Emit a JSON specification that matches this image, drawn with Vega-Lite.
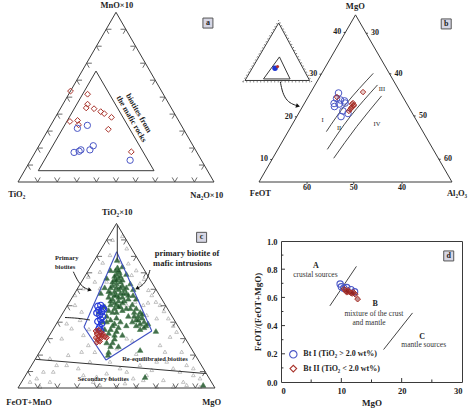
{
"$schema": "https://vega.github.io/schema/vega-lite/v6.json",
"background": "white",
"padding": 0,
"spacing": 3,
"config": {
  "view": {"stroke": null},
  "text": {"font": "Liberation Serif", "fontWeight": "bold", "fontSize": 8.5, "color": "#1e1e1e"},
  "axis": {"ticks": false, "domain": false, "grid": false, "labelFont": "Liberation Serif", "labelFontWeight": "bold", "labelFontSize": 8.5, "labelColor": "#222", "labelPadding": 4, "titleFont": "Liberation Serif", "titleFontWeight": "bold", "titleFontSize": 9, "titleColor": "#222", "titlePadding": 4},
  "title": {"font": "Liberation Serif"}
},
"datasets": {
  "tern": [
    {"u":0.1,"v":0,"edge":"b"},{"u":0.2,"v":0,"edge":"b"},{"u":0.3,"v":0,"edge":"b"},{"u":0.4,"v":0,"edge":"b"},{"u":0.5,"v":0,"edge":"b"},{"u":0.6,"v":0,"edge":"b"},{"u":0.7,"v":0,"edge":"b"},{"u":0.8,"v":0,"edge":"b"},{"u":0.9,"v":0,"edge":"b"},
    {"u":0.05,"v":0.0866,"edge":"l"},{"u":0.1,"v":0.1732,"edge":"l"},{"u":0.15,"v":0.2598,"edge":"l"},{"u":0.2,"v":0.3464,"edge":"l"},{"u":0.25,"v":0.433,"edge":"l"},{"u":0.3,"v":0.5196,"edge":"l"},{"u":0.35,"v":0.6062,"edge":"l"},{"u":0.4,"v":0.6928,"edge":"l"},{"u":0.45,"v":0.7794,"edge":"l"},
    {"u":0.95,"v":0.0866,"edge":"r"},{"u":0.9,"v":0.1732,"edge":"r"},{"u":0.85,"v":0.2598,"edge":"r"},{"u":0.8,"v":0.3464,"edge":"r"},{"u":0.75,"v":0.433,"edge":"r"},{"u":0.7,"v":0.5196,"edge":"r"},{"u":0.65,"v":0.6062,"edge":"r"},{"u":0.6,"v":0.6928,"edge":"r"},{"u":0.55,"v":0.7794,"edge":"r"}
  ],
  "aSeg": [
    {"u":0,"v":0,"u2":1,"v2":0},{"u":1,"v":0,"u2":0.5,"v2":0.866},{"u":0.5,"v":0.866,"u2":0,"v2":0},
    {"u":0.1036,"v":0.0577,"u2":0.694,"v2":0.0577},{"u":0.694,"v":0.0577,"u2":0.398,"v2":0.566},{"u":0.398,"v":0.566,"u2":0.1036,"v2":0.0577}
  ],
  "aPts": [
    {"grp":"II","u":0.268,"v":0.464},{"grp":"II","u":0.355,"v":0.448},{"grp":"II","u":0.355,"v":0.397},{"grp":"II","u":0.348,"v":0.378},{"grp":"II","u":0.388,"v":0.374},{"grp":"II","u":0.422,"v":0.359},{"grp":"II","u":0.44,"v":0.349},{"grp":"II","u":0.477,"v":0.33},{"grp":"II","u":0.265,"v":0.309},{"grp":"II","u":0.304,"v":0.314},{"grp":"II","u":0.309,"v":0.292},{"grp":"II","u":0.461,"v":0.269},{"grp":"II","u":0.578,"v":0.154},
    {"grp":"I","u":0.303,"v":0.274},{"grp":"I","u":0.354,"v":0.289},{"grp":"I","u":0.286,"v":0.151},{"grp":"I","u":0.312,"v":0.157},{"grp":"I","u":0.321,"v":0.164},{"grp":"I","u":0.367,"v":0.164},{"grp":"I","u":0.384,"v":0.185},{"grp":"I","u":0.572,"v":0.111}
  ],
  "aTxt": [
    {"u":0.504,"v":0.903,"t":"MnO×10","kind":"axis"},
    {"u":-0.0066,"v":-0.061,"t":"TiO₂","kind":"axis"},
    {"u":0.963,"v":-0.066,"t":"Na₂O×10","kind":"axis"},
    {"u":0.614,"v":0.35,"t":"biotites from","kind":"note"},
    {"u":0.577,"v":0.321,"t":"the mafic rocks","kind":"note"}
  ],
  "aBox": [{"u":0.969,"v":0.811,"t":"a"}],
  "bSeg": [
    {"u":0,"v":0,"u2":1,"v2":0,"kind":"main"},{"u":1,"v":0,"u2":0.5,"v2":0.866,"kind":"main"},{"u":0.5,"v":0.866,"u2":0,"v2":0,"kind":"main"},
    {"u":-0.0725,"v":0.526,"u2":0.262,"v2":0.526,"kind":"main"},{"u":0.262,"v":0.526,"u2":0.102,"v2":0.824,"kind":"main"},{"u":0.102,"v":0.824,"u2":-0.0725,"v2":0.526,"kind":"main"},
    {"u":0.0233,"v":0.534,"u2":0.161,"v2":0.534,"kind":"main"},{"u":0.161,"v":0.534,"u2":0.106,"v2":0.648,"kind":"main"},{"u":0.106,"v":0.648,"u2":0.0233,"v2":0.534,"kind":"main"},
    {"u":-0.0844,"v":0.519,"u2":0.2735,"v2":0.519,"kind":"dot"},{"u":0.2735,"v":0.519,"u2":0.1023,"v2":0.838,"kind":"dot"},{"u":0.1023,"v":0.838,"u2":-0.0844,"v2":0.519,"kind":"dot"}
  ],
  "bCurve": [
    {"id":"L1","i":0,"u":0.349,"v":0.261},{"id":"L1","i":1,"u":0.454,"v":0.408},{"id":"L1","i":2,"u":0.592,"v":0.563},
    {"id":"L2","i":0,"u":0.354,"v":0.169},{"id":"L2","i":1,"u":0.472,"v":0.338},{"id":"L2","i":2,"u":0.614,"v":0.503},
    {"id":"L3","i":0,"u":0.387,"v":0.123},{"id":"L3","i":1,"u":0.506,"v":0.287},{"id":"L3","i":2,"u":0.635,"v":0.446},
    {"id":"arrow","i":0,"u":0.1104,"v":0.5197},{"id":"arrow","i":1,"u":0.1218,"v":0.4611},{"id":"arrow","i":2,"u":0.1451,"v":0.4197},{"id":"arrow","i":3,"u":0.1762,"v":0.4016},{"id":"arrow","i":4,"u":0.2021,"v":0.3938}
  ],
  "bHead": [{"u":0.2021,"v":0.3938}],
  "bTick": [
    {"side":"l","u":0.0675,"v":0.1169,"t":"10"},{"side":"l","u":0.195,"v":0.3377,"t":"20"},{"side":"l","u":0.3225,"v":0.5586,"t":"30"},{"side":"l","u":0.4475,"v":0.7751,"t":"40"},
    {"side":"r","u":0.555,"v":0.7707,"t":"30"},{"side":"r","u":0.6765,"v":0.5603,"t":"40"},{"side":"r","u":0.8025,"v":0.3421,"t":"50"},{"side":"r","u":0.932,"v":0.1178,"t":"60"},
    {"side":"b","u":0.249,"v":0,"t":"60"},{"side":"b","u":0.491,"v":0,"t":"50"},{"side":"b","u":0.741,"v":0,"t":"40"}
  ],
  "bPts": [
    {"grp":"I","u":0.412,"v":0.461},{"grp":"I","u":0.402,"v":0.433},{"grp":"I","u":0.422,"v":0.425},{"grp":"I","u":0.443,"v":0.42},{"grp":"I","u":0.389,"v":0.407},{"grp":"I","u":0.391,"v":0.391},{"grp":"I","u":0.446,"v":0.409},{"grp":"I","u":0.435,"v":0.368},{"grp":"I","u":0.461,"v":0.355},{"grp":"I","u":0.425,"v":0.339},{"grp":"I","u":0.415,"v":0.404},
    {"grp":"II","u":0.404,"v":0.44},{"grp":"II","u":0.539,"v":0.466},{"grp":"II","u":0.482,"v":0.404},{"grp":"II","u":0.49,"v":0.394},{"grp":"II","u":0.477,"v":0.383},{"grp":"II","u":0.492,"v":0.399},{"grp":"II","u":0.472,"v":0.376},{"grp":"II","u":0.466,"v":0.368},{"grp":"II","u":0.487,"v":0.409},{"grp":"II","u":0.482,"v":0.389}
  ],
  "bInset": [{"grp":"I","u":0.083,"v":0.589},{"grp":"II","u":0.096,"v":0.598}],
  "bTxt": [
    {"u":0.499,"v":0.912,"t":"MgO","kind":"axis"},
    {"u":0.007,"v":-0.055,"t":"FeOT","kind":"axis"},
    {"u":1.026,"v":-0.055,"t":"Al₂O₃","kind":"axis"},
    {"u":0.329,"v":0.321,"t":"I","kind":"roman"},
    {"u":0.415,"v":0.282,"t":"II","kind":"roman"},
    {"u":0.637,"v":0.482,"t":"III","kind":"roman"},
    {"u":0.611,"v":0.303,"t":"IV","kind":"roman"}
  ],
  "bBox": [{"u":0.97,"v":0.819,"t":"b"}],
  "cSeg": [
    {"u":0,"v":0,"u2":1,"v2":0,"kind":"frame"},{"u":1,"v":0,"u2":0.5,"v2":0.866,"kind":"frame"},{"u":0.5,"v":0.866,"u2":0,"v2":0,"kind":"frame"},
    {"u":0.501,"v":0.717,"u2":0.679,"v2":0.3,"kind":"poly"},{"u":0.679,"v":0.3,"u2":0.447,"v2":0.147,"kind":"poly"},{"u":0.447,"v":0.147,"u2":0.335,"v2":0.321,"kind":"poly"},{"u":0.335,"v":0.321,"u2":0.501,"v2":0.717,"kind":"poly"},
    {"u":0.504,"v":0.858,"u2":0.504,"v2":0.674,"kind":"black"},
    {"u":0.089,"v":0.151,"u2":0.954,"v2":0.076,"kind":"black"}
  ],
  "cCurve": [
    {"id":"prim","i":0,"u":0.281,"v":0.612},{"id":"prim","i":1,"u":0.305,"v":0.558},{"id":"prim","i":2,"u":0.335,"v":0.526},{"id":"prim","i":3,"u":0.365,"v":0.516},
    {"id":"maf","i":0,"u":0.67,"v":0.621},{"id":"maf","i":1,"u":0.655,"v":0.568},{"id":"maf","i":2,"u":0.629,"v":0.537},{"id":"maf","i":3,"u":0.604,"v":0.524},
    {"id":"left","i":0,"u":0.2386,"v":0.371},{"id":"left","i":1,"u":0.305,"v":0.368},{"id":"left","i":2,"u":0.365,"v":0.358}
  ],
  "cHead": [{"id":"prim","u":0.365,"v":0.516},{"id":"maf","u":0.604,"v":0.524}],
  "cGray": [
    {"u":0.56,"v":0.656},{"u":0.577,"v":0.595},{"u":0.619,"v":0.551},{"u":0.64,"v":0.574},{"u":0.662,"v":0.516},{"u":0.679,"v":0.489},{"u":0.7,"v":0.454},{"u":0.721,"v":0.437},{"u":0.741,"v":0.405},{"u":0.763,"v":0.367},{"u":0.704,"v":0.367},{"u":0.788,"v":0.328},{"u":0.805,"v":0.296},{"u":0.772,"v":0.27},{"u":0.721,"v":0.226},{"u":0.746,"v":0.191},{"u":0.831,"v":0.191},{"u":0.704,"v":0.139},{"u":0.856,"v":0.121},{"u":0.788,"v":0.104},{"u":0.89,"v":0.068},{"u":0.924,"v":0.051},
    {"u":0.357,"v":0.586},{"u":0.332,"v":0.525},{"u":0.289,"v":0.489},{"u":0.289,"v":0.437},{"u":0.323,"v":0.402},{"u":0.315,"v":0.358},{"u":0.247,"v":0.34},{"u":0.272,"v":0.314},{"u":0.222,"v":0.261},{"u":0.332,"v":0.279},{"u":0.357,"v":0.226},{"u":0.323,"v":0.191},{"u":0.255,"v":0.174},{"u":0.162,"v":0.156},{"u":0.196,"v":0.121},{"u":0.129,"v":0.086},{"u":0.095,"v":0.051},{"u":0.162,"v":0.033},{"u":0.306,"v":0.104},{"u":0.332,"v":0.068},{"u":0.399,"v":0.06},{"u":0.45,"v":0.077},{"u":0.552,"v":0.086},{"u":0.585,"v":0.051},{"u":0.636,"v":0.042},{"u":0.653,"v":0.068},{"u":0.704,"v":0.007},{"u":0.788,"v":0.007},{"u":0.839,"v":0.033},{"u":0.924,"v":0.007},{"u":0.061,"v":0.033},{"u":0.112,"v":0.007},{"u":0.416,"v":0.016},{"u":0.501,"v":0.007},{"u":0.602,"v":0.007},
    {"u":0.416,"v":0.612},{"u":0.45,"v":0.56},{"u":0.467,"v":0.507},{"u":0.552,"v":0.437},{"u":0.585,"v":0.367},{"u":0.619,"v":0.332},{"u":0.501,"v":0.296},{"u":0.552,"v":0.261},{"u":0.467,"v":0.226},{"u":0.501,"v":0.209},
    {"u":0.467,"v":0.7},{"u":0.552,"v":0.735},{"u":0.416,"v":0.525},{"u":0.518,"v":0.665},{"u":0.594,"v":0.454},{"u":0.636,"v":0.437},{"u":0.653,"v":0.384},
    {"u":0.247,"v":0.121},{"u":0.365,"v":0.139},{"u":0.467,"v":0.139},{"u":0.518,"v":0.104},{"u":0.619,"v":0.121},{"u":0.679,"v":0.095},{"u":0.755,"v":0.139},{"u":0.822,"v":0.086},{"u":0.89,"v":0.104},{"u":0.179,"v":0.086},{"u":0.382,"v":0.033},{"u":0.467,"v":0.051},{"u":0.543,"v":0.025},{"u":0.738,"v":0.042},{"u":0.856,"v":0.016},
    {"u":0.48,"v":0.78},{"u":0.53,"v":0.8},{"u":0.43,"v":0.66},{"u":0.39,"v":0.56},{"u":0.6,"v":0.62},{"u":0.66,"v":0.45},{"u":0.58,"v":0.25},{"u":0.6,"v":0.18},{"u":0.39,"v":0.19},{"u":0.36,"v":0.31}
  ],
  "cGreen": [
    {"u":0.5,"v":0.6},{"u":0.51,"v":0.58},{"u":0.49,"v":0.57},{"u":0.52,"v":0.56},{"u":0.5,"v":0.55},{"u":0.48,"v":0.54},{"u":0.53,"v":0.54},{"u":0.51,"v":0.52},{"u":0.49,"v":0.51},{"u":0.52,"v":0.5},{"u":0.5,"v":0.49},{"u":0.47,"v":0.5},{"u":0.54,"v":0.52},{"u":0.55,"v":0.5},{"u":0.53,"v":0.48},{"u":0.51,"v":0.46},{"u":0.48,"v":0.47},{"u":0.46,"v":0.48},{"u":0.5,"v":0.44},{"u":0.52,"v":0.43},{"u":0.49,"v":0.42},{"u":0.47,"v":0.44},{"u":0.54,"v":0.46},{"u":0.56,"v":0.47},{"u":0.505,"v":0.635},{"u":0.495,"v":0.62},{"u":0.515,"v":0.61},{"u":0.503,"v":0.674},
    {"u":0.58,"v":0.44},{"u":0.6,"v":0.42},{"u":0.62,"v":0.4},{"u":0.61,"v":0.38},{"u":0.63,"v":0.37},{"u":0.64,"v":0.35},{"u":0.62,"v":0.34},{"u":0.6,"v":0.36},{"u":0.65,"v":0.33},{"u":0.59,"v":0.4},{"u":0.57,"v":0.42},{"u":0.584,"v":0.489},{"u":0.6,"v":0.47},
    {"u":0.45,"v":0.38},{"u":0.47,"v":0.36},{"u":0.5,"v":0.37},{"u":0.52,"v":0.35},{"u":0.48,"v":0.33},{"u":0.44,"v":0.31},{"u":0.46,"v":0.29},{"u":0.5,"v":0.3},{"u":0.53,"v":0.28},{"u":0.49,"v":0.26},{"u":0.45,"v":0.24},{"u":0.47,"v":0.22},{"u":0.51,"v":0.22},{"u":0.46,"v":0.19},{"u":0.457,"v":0.174},{"u":0.55,"v":0.33},{"u":0.56,"v":0.38},{"u":0.43,"v":0.35},{"u":0.41,"v":0.4},{"u":0.44,"v":0.43},
    {"u":0.645,"v":0.058},{"u":0.94,"v":0.016},{"u":0.62,"v":0.2},{"u":0.7,"v":0.3},
    {"u":0.47,"v":0.62},{"u":0.45,"v":0.58},{"u":0.53,"v":0.64},{"u":0.55,"v":0.6},{"u":0.44,"v":0.53},{"u":0.42,"v":0.5},{"u":0.57,"v":0.55},{"u":0.585,"v":0.52},
    {"u":0.49,"v":0.59},{"u":0.51,"v":0.62},{"u":0.52,"v":0.59},{"u":0.48,"v":0.56},{"u":0.5,"v":0.57},{"u":0.53,"v":0.57},{"u":0.47,"v":0.53},{"u":0.5,"v":0.53},{"u":0.52,"v":0.53},{"u":0.55,"v":0.53},{"u":0.46,"v":0.51},{"u":0.49,"v":0.49},{"u":0.51,"v":0.48},{"u":0.535,"v":0.5},{"u":0.56,"v":0.49},{"u":0.47,"v":0.46},{"u":0.49,"v":0.45},{"u":0.53,"v":0.45},{"u":0.51,"v":0.43},{"u":0.48,"v":0.4},{"u":0.5,"v":0.4},{"u":0.46,"v":0.41},{"u":0.53,"v":0.41},{"u":0.55,"v":0.42},{"u":0.45,"v":0.35},{"u":0.49,"v":0.34},{"u":0.47,"v":0.31},{"u":0.51,"v":0.32},{"u":0.49,"v":0.28},{"u":0.48,"v":0.24},{"u":0.61,"v":0.36},{"u":0.63,"v":0.39},{"u":0.59,"v":0.38},{"u":0.58,"v":0.35},{"u":0.6,"v":0.33},{"u":0.62,"v":0.31},{"u":0.66,"v":0.34},{"u":0.64,"v":0.32}
  ],
  "cPts": [
    {"grp":"I","u":0.405,"v":0.43},{"grp":"I","u":0.42,"v":0.435},{"grp":"I","u":0.43,"v":0.42},{"grp":"I","u":0.41,"v":0.41},{"grp":"I","u":0.425,"v":0.4},{"grp":"I","u":0.4,"v":0.395},{"grp":"I","u":0.415,"v":0.385},{"grp":"I","u":0.43,"v":0.375},{"grp":"I","u":0.42,"v":0.36},{"grp":"I","u":0.405,"v":0.35},{"grp":"I","u":0.425,"v":0.34},{"grp":"I","u":0.415,"v":0.32},{"grp":"I","u":0.42,"v":0.3},{"grp":"I","u":0.41,"v":0.31},{"grp":"I","u":0.435,"v":0.415},
    {"grp":"II","u":0.395,"v":0.3},{"grp":"II","u":0.41,"v":0.305},{"grp":"II","u":0.42,"v":0.29},{"grp":"II","u":0.4,"v":0.285},{"grp":"II","u":0.41,"v":0.275},{"grp":"II","u":0.425,"v":0.275},{"grp":"II","u":0.395,"v":0.265},{"grp":"II","u":0.405,"v":0.255},{"grp":"II","u":0.42,"v":0.26},{"grp":"II","u":0.43,"v":0.285},{"grp":"II","u":0.44,"v":0.27},{"grp":"II","u":0.45,"v":0.265},{"grp":"II","u":0.415,"v":0.245},{"grp":"II","u":0.4,"v":0.24}
  ],
  "cTxt": [
    {"u":0.504,"v":0.925,"t":"TiO₂×10","kind":"axis"},
    {"u":0.056,"v":-0.075,"t":"FeOT+MnO","kind":"axis"},
    {"u":0.983,"v":-0.075,"t":"MgO","kind":"axis"},
    {"u":0.247,"v":0.683,"t":"Primary","kind":"small"},
    {"u":0.239,"v":0.638,"t":"biotites","kind":"small"},
    {"u":0.695,"v":0.153,"t":"Re-equilibrated biotites","kind":"small"},
    {"u":0.433,"v":0.047,"t":"Secondary biotites","kind":"small"},
    {"u":0.858,"v":0.708,"t":"primary biotite of","kind":"big"},
    {"u":0.835,"v":0.657,"t":"mafic intrusions","kind":"big"}
  ],
  "cBox": [{"u":0.932,"v":0.793,"t":"c"}],
  "dPts": [
    {"grp":"I","x":9.8,"y":0.695},{"grp":"I","x":10.0,"y":0.675},{"grp":"I","x":10.9,"y":0.67},{"grp":"I","x":11.6,"y":0.655},{"grp":"I","x":12.2,"y":0.64},{"grp":"I","x":10.4,"y":0.665},
    {"grp":"II","x":10.5,"y":0.658},{"grp":"II","x":10.8,"y":0.645},{"grp":"II","x":11.1,"y":0.65},{"grp":"II","x":11.3,"y":0.64},{"grp":"II","x":11.6,"y":0.632},{"grp":"II","x":12.0,"y":0.636},{"grp":"II","x":12.3,"y":0.622},{"grp":"II","x":12.7,"y":0.588},{"grp":"II","x":10.9,"y":0.637},{"grp":"II","x":11.8,"y":0.628}
  ],
  "dLines": [{"x":8.1,"y":0.54,"x2":12.5,"y2":0.82},{"x":17.0,"y":0.23,"x2":21.8,"y2":0.49}],
  "dTicks": [
    {"x":0,"y":0.2,"x2":0.66,"y2":0.2},{"x":0,"y":0.4,"x2":0.66,"y2":0.4},{"x":0,"y":0.6,"x2":0.66,"y2":0.6},{"x":0,"y":0.8,"x2":0.66,"y2":0.8},
    {"x":0,"y":0.1,"x2":0.4,"y2":0.1},{"x":0,"y":0.3,"x2":0.4,"y2":0.3},{"x":0,"y":0.5,"x2":0.4,"y2":0.5},{"x":0,"y":0.7,"x2":0.4,"y2":0.7},{"x":0,"y":0.9,"x2":0.4,"y2":0.9},
    {"x":10,"y":0,"x2":10,"y2":0.028},{"x":20,"y":0,"x2":20,"y2":0.028},
    {"x":5,"y":0,"x2":5,"y2":0.018},{"x":15,"y":0,"x2":15,"y2":0.018},{"x":25,"y":0,"x2":25,"y2":0.018}
  ],
  "dTxt": [
    {"x":5.8,"y":0.823,"t":"A","kind":"letter"},
    {"x":5.7,"y":0.762,"t":"crustal sources","kind":"note"},
    {"x":15.6,"y":0.551,"t":"B","kind":"letter"},
    {"x":15.4,"y":0.48,"t":"mixture of the crust","kind":"note"},
    {"x":14.6,"y":0.421,"t":"and mantle","kind":"note"},
    {"x":23.4,"y":0.319,"t":"C","kind":"letter"},
    {"x":23.65,"y":0.26,"t":"mantle sources","kind":"note"}
  ],
  "dLeg": [
    {"grp":"I","x":2.04,"y":0.196,"xt":3.7,"t":"Bt I (TiO₂ > 2.0 wt%)"},
    {"grp":"II","x":2.04,"y":0.095,"xt":3.7,"t":"Bt II (TiO₂ < 2.0 wt%)"}
  ],
  "dBox": [{"x":27.8,"y":0.894,"t":"d"}]
},
"vconcat": [
  {"spacing": 0, "hconcat": [
    {
      "width": 237, "height": 205,
      "encoding": {
        "x": {"field": "u", "type": "quantitative", "scale": {"domain": [-0.0918, 1.1173], "nice": false, "zero": false}, "axis": null},
        "y": {"field": "v", "type": "quantitative", "scale": {"domain": [-0.1173, 0.9286], "nice": false, "zero": false}, "axis": null}
      },
      "layer": [
        {"data": {"name": "aSeg"}, "mark": {"type": "rule", "color": "#3a3a3a", "strokeWidth": 1}, "encoding": {"x2": {"field": "u2"}, "y2": {"field": "v2"}}},
        {"data": {"name": "tern"}, "transform": [{"filter": "datum.edge==='b'"}], "mark": {"type": "point", "shape": "M-0.5,-0.866L0,0L0.5,-0.866", "size": 110, "filled": false, "stroke": "#444", "strokeWidth": 0.8, "opacity": 1}},
        {"data": {"name": "tern"}, "transform": [{"filter": "datum.edge==='l'"}], "mark": {"type": "point", "shape": "M1,0L0,0L0.5,0.866", "size": 110, "filled": false, "stroke": "#444", "strokeWidth": 0.8, "opacity": 1}},
        {"data": {"name": "tern"}, "transform": [{"filter": "datum.edge==='r'"}], "mark": {"type": "point", "shape": "M-1,0L0,0L-0.5,0.866", "size": 110, "filled": false, "stroke": "#444", "strokeWidth": 0.8, "opacity": 1}},
        {"data": {"name": "aPts"}, "transform": [{"filter": "datum.grp==='II'"}], "mark": {"type": "point", "shape": "diamond", "size": 34, "filled": false, "stroke": "#a8322a", "strokeWidth": 1, "opacity": 1}},
        {"data": {"name": "aPts"}, "transform": [{"filter": "datum.grp==='I'"}], "mark": {"type": "point", "shape": "circle", "size": 40, "filled": false, "stroke": "#4b57c6", "strokeWidth": 1, "opacity": 1}},
        {"data": {"name": "aTxt"}, "transform": [{"filter": "datum.kind==='axis'"}], "mark": {"type": "text", "fontSize": 8.5}, "encoding": {"text": {"field": "t"}}},
        {"data": {"name": "aTxt"}, "transform": [{"filter": "datum.kind==='note'"}], "mark": {"type": "text", "fontSize": 8, "angle": 60}, "encoding": {"text": {"field": "t"}}},
        {"data": {"name": "aBox"}, "mark": {"type": "point", "shape": "square", "size": 100, "filled": true, "color": "#d6d6e4", "stroke": "#555", "strokeWidth": 1, "opacity": 1}},
        {"data": {"name": "aBox"}, "mark": {"type": "text", "fontSize": 8}, "encoding": {"text": {"field": "t"}}}
      ]
    },
    {
      "width": 237, "height": 205,
      "encoding": {
        "x": {"field": "u", "type": "quantitative", "scale": {"domain": [-0.11399, 1.11399], "nice": false, "zero": false}, "axis": null},
        "y": {"field": "v", "type": "quantitative", "scale": {"domain": [-0.11917, 0.94301], "nice": false, "zero": false}, "axis": null}
      },
      "layer": [
        {"data": {"name": "bSeg"}, "transform": [{"filter": "datum.kind==='main'"}], "mark": {"type": "rule", "color": "#3a3a3a", "strokeWidth": 1}, "encoding": {"x2": {"field": "u2"}, "y2": {"field": "v2"}}},
        {"data": {"name": "bSeg"}, "transform": [{"filter": "datum.kind==='dot'"}], "mark": {"type": "rule", "color": "#555", "strokeWidth": 1, "strokeDash": [1, 2.5]}, "encoding": {"x2": {"field": "u2"}, "y2": {"field": "v2"}}},
        {"data": {"name": "bCurve"}, "transform": [{"filter": "datum.id!=='arrow'"}], "mark": {"type": "line", "interpolate": "natural", "color": "#333", "strokeWidth": 0.9}, "encoding": {"detail": {"field": "id"}, "order": {"field": "i"}}},
        {"data": {"name": "bCurve"}, "transform": [{"filter": "datum.id==='arrow'"}], "mark": {"type": "line", "interpolate": "basis", "color": "#222", "strokeWidth": 1}, "encoding": {"order": {"field": "i"}}},
        {"data": {"name": "bHead"}, "mark": {"type": "point", "shape": "triangle-right", "size": 22, "filled": true, "color": "#111", "angle": 17, "opacity": 1}},
        {"data": {"name": "bTick"}, "transform": [{"filter": "datum.side==='l'"}], "mark": {"type": "point", "shape": "M0,0L-1,0", "size": 12, "filled": false, "stroke": "#333", "strokeWidth": 1, "opacity": 1}},
        {"data": {"name": "bTick"}, "transform": [{"filter": "datum.side==='r'"}], "mark": {"type": "point", "shape": "M0,0L1,0", "size": 12, "filled": false, "stroke": "#333", "strokeWidth": 1, "opacity": 1}},
        {"data": {"name": "bTick"}, "transform": [{"filter": "datum.side==='b'"}], "mark": {"type": "point", "shape": "M0,0L0,1", "size": 12, "filled": false, "stroke": "#333", "strokeWidth": 1, "opacity": 1}},
        {"data": {"name": "bTick"}, "transform": [{"filter": "datum.side==='l'"}], "mark": {"type": "text", "fontSize": 8, "align": "right", "dx": -4}, "encoding": {"text": {"field": "t"}}},
        {"data": {"name": "bTick"}, "transform": [{"filter": "datum.side==='r'"}], "mark": {"type": "text", "fontSize": 8, "align": "left", "dx": 5}, "encoding": {"text": {"field": "t"}}},
        {"data": {"name": "bTick"}, "transform": [{"filter": "datum.side==='b'"}], "mark": {"type": "text", "fontSize": 8, "dy": 6}, "encoding": {"text": {"field": "t"}}},
        {"data": {"name": "bPts"}, "transform": [{"filter": "datum.grp==='I'"}], "mark": {"type": "point", "shape": "circle", "size": 44, "filled": false, "stroke": "#4b57c6", "strokeWidth": 1, "opacity": 1}},
        {"data": {"name": "bPts"}, "transform": [{"filter": "datum.grp==='II'"}], "mark": {"type": "point", "shape": "diamond", "size": 30, "filled": true, "color": "#a8322a", "fillOpacity": 0.25, "stroke": "#a8322a", "strokeWidth": 1, "opacity": 1}},
        {"data": {"name": "bInset"}, "transform": [{"filter": "datum.grp==='I'"}], "mark": {"type": "point", "shape": "circle", "size": 30, "filled": true, "color": "#1f35d0", "opacity": 1}},
        {"data": {"name": "bInset"}, "transform": [{"filter": "datum.grp==='II'"}], "mark": {"type": "point", "shape": "circle", "size": 10, "filled": true, "color": "#b03030", "opacity": 1}},
        {"data": {"name": "bTxt"}, "transform": [{"filter": "datum.kind==='axis'"}], "mark": {"type": "text", "fontSize": 8.5}, "encoding": {"text": {"field": "t"}}},
        {"data": {"name": "bTxt"}, "transform": [{"filter": "datum.kind==='roman'"}], "mark": {"type": "text", "fontSize": 6.5, "fontWeight": "normal"}, "encoding": {"text": {"field": "t"}}},
        {"data": {"name": "bBox"}, "mark": {"type": "point", "shape": "square", "size": 100, "filled": true, "color": "#d6d6e4", "stroke": "#555", "strokeWidth": 1, "opacity": 1}},
        {"data": {"name": "bBox"}, "mark": {"type": "text", "fontSize": 8}, "encoding": {"text": {"field": "t"}}}
      ]
    }
  ]},
  {"spacing": 15, "hconcat": [
    {
      "width": 237, "height": 170,
      "encoding": {
        "x": {"field": "u", "type": "quantitative", "scale": {"domain": [-0.09137, 1.11168], "nice": false, "zero": false}, "axis": null},
        "y": {"field": "v", "type": "quantitative", "scale": {"domain": [-0.12105, 0.77368], "nice": false, "zero": false}, "axis": null}
      },
      "layer": [
        {"data": {"name": "cGray"}, "mark": {"type": "point", "shape": "triangle-up", "size": 14, "filled": false, "stroke": "#a8a8a8", "strokeWidth": 0.7, "opacity": 1}},
        {"data": {"name": "cGreen"}, "mark": {"type": "point", "shape": "triangle-up", "size": 30, "filled": true, "color": "#174a20", "fillOpacity": 0.8, "stroke": "#3f7a48", "strokeWidth": 0.6, "opacity": 1}},
        {"data": {"name": "cSeg"}, "transform": [{"filter": "datum.kind==='frame'"}], "mark": {"type": "rule", "color": "#3a3a3a", "strokeWidth": 1}, "encoding": {"x2": {"field": "u2"}, "y2": {"field": "v2"}}},
        {"data": {"name": "cSeg"}, "transform": [{"filter": "datum.kind==='poly'"}], "mark": {"type": "rule", "color": "#3e4fc2", "strokeWidth": 1.1}, "encoding": {"x2": {"field": "u2"}, "y2": {"field": "v2"}}},
        {"data": {"name": "cSeg"}, "transform": [{"filter": "datum.kind==='black'"}], "mark": {"type": "rule", "color": "#333", "strokeWidth": 1}, "encoding": {"x2": {"field": "u2"}, "y2": {"field": "v2"}}},
        {"data": {"name": "tern"}, "transform": [{"filter": "datum.edge==='b'"}], "mark": {"type": "point", "shape": "M-0.5,-0.866L0,0L0.5,-0.866", "size": 110, "filled": false, "stroke": "#444", "strokeWidth": 0.8, "opacity": 1}},
        {"data": {"name": "tern"}, "transform": [{"filter": "datum.edge==='l'"}], "mark": {"type": "point", "shape": "M1,0L0,0L0.5,0.866", "size": 110, "filled": false, "stroke": "#444", "strokeWidth": 0.8, "opacity": 1}},
        {"data": {"name": "tern"}, "transform": [{"filter": "datum.edge==='r'"}], "mark": {"type": "point", "shape": "M-1,0L0,0L-0.5,0.866", "size": 110, "filled": false, "stroke": "#444", "strokeWidth": 0.8, "opacity": 1}},
        {"data": {"name": "cPts"}, "transform": [{"filter": "datum.grp==='I'"}], "mark": {"type": "point", "shape": "circle", "size": 38, "filled": false, "stroke": "#2538d8", "strokeWidth": 1.2, "opacity": 1}},
        {"data": {"name": "cPts"}, "transform": [{"filter": "datum.grp==='II'"}], "mark": {"type": "point", "shape": "diamond", "size": 30, "filled": true, "color": "#a01e1e", "fillOpacity": 0.45, "stroke": "#b0302a", "strokeWidth": 1, "opacity": 1}},
        {"data": {"name": "cCurve"}, "mark": {"type": "line", "interpolate": "basis", "color": "#222", "strokeWidth": 1}, "encoding": {"detail": {"field": "id"}, "order": {"field": "i"}}},
        {"data": {"name": "cHead"}, "transform": [{"filter": "datum.id==='prim'"}], "mark": {"type": "point", "shape": "triangle-right", "size": 20, "filled": true, "color": "#111", "angle": 18, "opacity": 1}},
        {"data": {"name": "cHead"}, "transform": [{"filter": "datum.id==='maf'"}], "mark": {"type": "point", "shape": "triangle-right", "size": 20, "filled": true, "color": "#111", "angle": 153, "opacity": 1}},
        {"data": {"name": "cTxt"}, "transform": [{"filter": "datum.kind==='axis'"}], "mark": {"type": "text", "fontSize": 8.5}, "encoding": {"text": {"field": "t"}}},
        {"data": {"name": "cTxt"}, "transform": [{"filter": "datum.kind==='small'"}], "mark": {"type": "text", "fontSize": 6.5}, "encoding": {"text": {"field": "t"}}},
        {"data": {"name": "cTxt"}, "transform": [{"filter": "datum.kind==='big'"}], "mark": {"type": "text", "fontSize": 8.5}, "encoding": {"text": {"field": "t"}}},
        {"data": {"name": "cBox"}, "mark": {"type": "point", "shape": "square", "size": 100, "filled": true, "color": "#d6d6e4", "stroke": "#555", "strokeWidth": 1, "opacity": 1}},
        {"data": {"name": "cBox"}, "mark": {"type": "text", "fontSize": 8}, "encoding": {"text": {"field": "t"}}}
      ]
    },
    {
      "width": 181, "height": 141,
      "view": {"stroke": "#3a3a3a", "strokeWidth": 1},
      "encoding": {
        "x": {"field": "x", "type": "quantitative", "scale": {"domain": [0, 30], "nice": false, "zero": false}, "axis": {"values": [0, 10, 20, 30], "format": "d", "title": "MgO"}},
        "y": {"field": "y", "type": "quantitative", "scale": {"domain": [0, 1], "nice": false, "zero": false}, "axis": {"values": [0, 0.2, 0.4, 0.6, 0.8, 1], "format": ".1f", "title": "FeOT/(FeOT+MgO)"}}
      },
      "layer": [
        {"data": {"name": "dLines"}, "mark": {"type": "rule", "color": "#444", "strokeWidth": 1}, "encoding": {"x2": {"field": "x2"}, "y2": {"field": "y2"}}},
        {"data": {"name": "dTicks"}, "mark": {"type": "rule", "color": "#333", "strokeWidth": 1}, "encoding": {"x2": {"field": "x2"}, "y2": {"field": "y2"}}},
        {"data": {"name": "dPts"}, "transform": [{"filter": "datum.grp==='I'"}], "mark": {"type": "point", "shape": "circle", "size": 40, "filled": false, "stroke": "#4b57c6", "strokeWidth": 1.1, "opacity": 1}},
        {"data": {"name": "dPts"}, "transform": [{"filter": "datum.grp==='II'"}], "mark": {"type": "point", "shape": "diamond", "size": 34, "filled": true, "color": "#8b1a1a", "fillOpacity": 0.5, "stroke": "#a8322a", "strokeWidth": 1, "opacity": 1}},
        {"data": {"name": "dLeg"}, "transform": [{"filter": "datum.grp==='I'"}], "mark": {"type": "point", "shape": "circle", "size": 55, "filled": false, "stroke": "#4b57c6", "strokeWidth": 1.1, "opacity": 1}},
        {"data": {"name": "dLeg"}, "transform": [{"filter": "datum.grp==='II'"}], "mark": {"type": "point", "shape": "diamond", "size": 45, "filled": false, "stroke": "#a8322a", "strokeWidth": 1.1, "opacity": 1}},
        {"data": {"name": "dLeg"}, "mark": {"type": "text", "fontSize": 8, "align": "left"}, "encoding": {"x": {"field": "xt", "type": "quantitative"}, "text": {"field": "t"}}},
        {"data": {"name": "dTxt"}, "transform": [{"filter": "datum.kind==='letter'"}], "mark": {"type": "text", "fontSize": 8}, "encoding": {"text": {"field": "t"}}},
        {"data": {"name": "dTxt"}, "transform": [{"filter": "datum.kind==='note'"}], "mark": {"type": "text", "fontSize": 7.5, "fontWeight": "normal", "color": "#333"}, "encoding": {"text": {"field": "t"}}},
        {"data": {"name": "dBox"}, "mark": {"type": "point", "shape": "square", "size": 100, "filled": true, "color": "#d6d6e4", "stroke": "#555", "strokeWidth": 1, "opacity": 1}},
        {"data": {"name": "dBox"}, "mark": {"type": "text", "fontSize": 8}, "encoding": {"text": {"field": "t"}}}
      ]
    }
  ]}
]
}
